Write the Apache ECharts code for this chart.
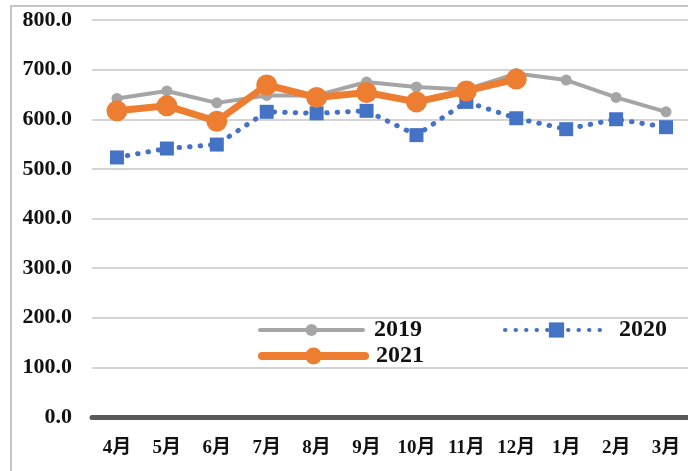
<!DOCTYPE html>
<html>
<head>
<meta charset="utf-8">
<script src="https://cdn.jsdelivr.net/npm/echarts@6/dist/echarts.min.js"></script>
<style>
  html, body { margin: 0; padding: 0; background: #fff; }
  #main { width: 688px; height: 471px; }
</style>
</head>
<body>
<div id="main"></div>
<script>
  // months (fiscal year order)
  var months = ['4月', '5月', '6月', '7月', '8月', '9月', '10月', '11月', '12月', '1月', '2月', '3月'];
  var y2019 = [642, 657, 633, 648, 648, 675, 665, 660, 692, 679, 644, 615];
  var y2020 = [523, 541, 549, 615, 612, 617, 568, 635, 602, 580, 600, 584];
  var y2021 = [617, 627, 596, 669, 644, 654, 635, 657, 681];

  var font = '"Liberation Serif", "Noto Sans CJK JP", serif';
  var legendText = { fontFamily: font, fontWeight: 'bold', fontSize: 24, color: '#111', padding: [0, 0, 0, 6] };

  function legendItem(name, left, top, size, width) {
    return {
      data: [{ name: name, lineStyle: { width: width, cap: 'round' } }],
      left: left,
      top: top,
      itemWidth: 103,
      itemHeight: size,
      textStyle: legendText
    };
  }

  var myChart = echarts.init(document.getElementById('main'));
  myChart.setOption({
    backgroundColor: '#fff',
    animation: false,
    graphic: [{
      type: 'rect',
      shape: { x: 11, y: 6, width: 700, height: 500 },
      style: { fill: 'none', stroke: '#c4c4c4', lineWidth: 2 },
      z: -1
    }],
    grid: {
      left: 92,
      right: -3,
      top: 20,
      bottom: 54,
      containLabel: false,
      outerBoundsMode: 'none'
    },
    legend: [
      legendItem('2019', 253, 313, 15, 4),
      legendItem('2020', 498, 313, 19, 4),
      legendItem('2021', 253, 339, 21, 8)
    ],
    xAxis: {
      type: 'category',
      data: months,
      boundaryGap: true,
      axisTick: { show: false },
      axisLine: { lineStyle: { color: '#595959', width: 5 } },
      axisLabel: {
        margin: 22,
        interval: 0,
        fontFamily: font,
        fontWeight: 'bold',
        fontSize: 19,
        color: '#111'
      }
    },
    yAxis: {
      type: 'value',
      min: 0,
      max: 800,
      interval: 100,
      axisLine: { show: false },
      axisTick: { show: false },
      splitLine: { lineStyle: { color: '#d4d4d4', width: 2 } },
      axisLabel: {
        margin: 20,
        fontFamily: font,
        fontWeight: 'bold',
        fontSize: 22,
        color: '#111',
        formatter: function (v) { return v.toFixed(1); }
      }
    },
    series: [{
      name: '2019',
      type: 'line',
      data: y2019,
      symbol: 'circle',
      symbolSize: 11,
      itemStyle: { color: '#a5a5a5' },
      lineStyle: { color: '#a5a5a5', width: 4 }
    }, {
      name: '2020',
      type: 'line',
      data: y2020,
      symbol: 'rect',
      symbolSize: 14,
      itemStyle: { color: '#4472c4' },
      lineStyle: { color: '#4472c4', width: 5, type: [0.5, 10], cap: 'round' }
    }, {
      name: '2021',
      type: 'line',
      data: y2021,
      symbol: 'circle',
      symbolSize: 21,
      itemStyle: { color: '#ed7d31' },
      lineStyle: { color: '#ed7d31', width: 7 }
    }]
  });
</script>
</body>
</html>
